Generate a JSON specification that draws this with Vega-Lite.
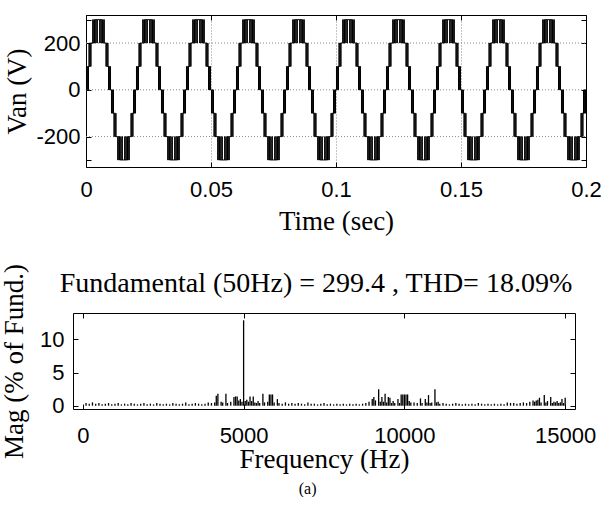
{
  "$schema": "https://vega.github.io/schema/vega-lite/v6.json",
  "padding": {"top": 14, "left": 0, "right": 0, "bottom": 0},
  "background": "white",
  "config": {
    "view": {"stroke": "black", "strokeWidth": 1},
    "axis": {
      "labelFont": "Liberation Sans", "labelFontSize": 22, "labelColor": "black",
      "titleFont": "Liberation Serif", "titleFontSize": 27, "titleFontWeight": "normal", "titleColor": "black",
      "domain": false, "domainColor": "black", "domainWidth": 1, "tickColor": "black", "tickSize": -5, "grid": false
    }
  },
  "title": {"text": "(a)", "orient": "bottom", "font": "Liberation Serif", "fontSize": 16, "fontWeight": "normal", "color": "black", "anchor": "middle", "offset": 8, "dx": 7},
  "spacing": 29,
  "vconcat": [
    {
      "width": 513,
      "height": 152,
      "view": {"stroke": null},
      "resolve": {"axis": {"x": "independent", "y": "independent"}},
      "layer": [
        {
          "data": {"values": [{"g": -200}, {"g": 0}, {"g": 200}]},
          "mark": {"type": "rule", "color": "#888", "strokeDash": [1, 2], "strokeWidth": 1},
          "encoding": {
            "x": {"datum": 0, "type": "quantitative", "scale": {"domain": [0, 0.2], "range": [13, 513], "nice": false, "zero": false},
                  "axis": {"orient": "top", "values": [0, 0.05, 0.1, 0.15, 0.2], "labels": false, "title": null, "domain": true, "grid": false}},
            "x2": {"datum": 0.2},
            "y": {"field": "g", "type": "quantitative", "scale": {"domain": [-330, 320], "nice": false, "zero": false},
                  "axis": {"orient": "right", "values": [-300, -200, 0, 200, 300], "labels": false, "title": null, "domain": true, "grid": false}}
          }
        },
        {
          "data": {"values": [
{"t":0,"v":0},
{"t":0.00019,"v":100},{"t":0.00031,"v":0},{"t":0.00057,"v":100},{"t":0.00093,"v":0},{"t":0.00100,"v":100},{"t":0.00121,"v":200},{"t":0.00129,"v":100},{"t":0.00161,"v":200},{"t":0.00189,"v":100},{"t":0.00201,"v":200},{"t":0.00268,"v":300},{"t":0.00282,"v":200},{"t":0.00311,"v":300},{"t":0.00339,"v":200},{"t":0.00356,"v":300},{"t":0.00394,"v":200},{"t":0.00402,"v":300},{"t":0.00448,"v":200},{"t":0.00450,"v":300},{"t":0.00550,"v":200},{"t":0.00552,"v":300},{"t":0.00598,"v":200},{"t":0.00606,"v":300},{"t":0.00644,"v":200},{"t":0.00661,"v":300},{"t":0.00689,"v":200},{"t":0.00718,"v":300},{"t":0.00732,"v":200},{"t":0.00799,"v":100},{"t":0.00811,"v":200},{"t":0.00839,"v":100},{"t":0.00871,"v":200},{"t":0.00879,"v":100},{"t":0.00900,"v":0},{"t":0.00907,"v":100},{"t":0.00943,"v":0},{"t":0.00969,"v":100},{"t":0.00981,"v":0},
{"t":0.01019,"v":-100},{"t":0.01031,"v":0},{"t":0.01057,"v":-100},{"t":0.01093,"v":0},{"t":0.01100,"v":-100},{"t":0.01121,"v":-200},{"t":0.01129,"v":-100},{"t":0.01161,"v":-200},{"t":0.01189,"v":-100},{"t":0.01201,"v":-200},{"t":0.01268,"v":-300},{"t":0.01282,"v":-200},{"t":0.01311,"v":-300},{"t":0.01339,"v":-200},{"t":0.01356,"v":-300},{"t":0.01394,"v":-200},{"t":0.01402,"v":-300},{"t":0.01448,"v":-200},{"t":0.01450,"v":-300},{"t":0.01550,"v":-200},{"t":0.01552,"v":-300},{"t":0.01598,"v":-200},{"t":0.01606,"v":-300},{"t":0.01644,"v":-200},{"t":0.01661,"v":-300},{"t":0.01689,"v":-200},{"t":0.01718,"v":-300},{"t":0.01732,"v":-200},{"t":0.01799,"v":-100},{"t":0.01811,"v":-200},{"t":0.01839,"v":-100},{"t":0.01871,"v":-200},{"t":0.01879,"v":-100},{"t":0.01900,"v":0},{"t":0.01907,"v":-100},{"t":0.01943,"v":0},{"t":0.01969,"v":-100},{"t":0.01981,"v":0},
{"t":0.02019,"v":100},{"t":0.02031,"v":0},{"t":0.02057,"v":100},{"t":0.02093,"v":0},{"t":0.02100,"v":100},{"t":0.02121,"v":200},{"t":0.02129,"v":100},{"t":0.02161,"v":200},{"t":0.02189,"v":100},{"t":0.02201,"v":200},{"t":0.02268,"v":300},{"t":0.02282,"v":200},{"t":0.02311,"v":300},{"t":0.02339,"v":200},{"t":0.02356,"v":300},{"t":0.02394,"v":200},{"t":0.02402,"v":300},{"t":0.02448,"v":200},{"t":0.02450,"v":300},{"t":0.02550,"v":200},{"t":0.02552,"v":300},{"t":0.02598,"v":200},{"t":0.02606,"v":300},{"t":0.02644,"v":200},{"t":0.02661,"v":300},{"t":0.02689,"v":200},{"t":0.02718,"v":300},{"t":0.02732,"v":200},{"t":0.02799,"v":100},{"t":0.02811,"v":200},{"t":0.02839,"v":100},{"t":0.02871,"v":200},{"t":0.02879,"v":100},{"t":0.02900,"v":0},{"t":0.02907,"v":100},{"t":0.02943,"v":0},{"t":0.02969,"v":100},{"t":0.02981,"v":0},
{"t":0.03019,"v":-100},{"t":0.03031,"v":0},{"t":0.03057,"v":-100},{"t":0.03093,"v":0},{"t":0.03100,"v":-100},{"t":0.03121,"v":-200},{"t":0.03129,"v":-100},{"t":0.03161,"v":-200},{"t":0.03189,"v":-100},{"t":0.03201,"v":-200},{"t":0.03268,"v":-300},{"t":0.03282,"v":-200},{"t":0.03311,"v":-300},{"t":0.03339,"v":-200},{"t":0.03356,"v":-300},{"t":0.03394,"v":-200},{"t":0.03402,"v":-300},{"t":0.03448,"v":-200},{"t":0.03450,"v":-300},{"t":0.03550,"v":-200},{"t":0.03552,"v":-300},{"t":0.03598,"v":-200},{"t":0.03606,"v":-300},{"t":0.03644,"v":-200},{"t":0.03661,"v":-300},{"t":0.03689,"v":-200},{"t":0.03718,"v":-300},{"t":0.03732,"v":-200},{"t":0.03799,"v":-100},{"t":0.03811,"v":-200},{"t":0.03839,"v":-100},{"t":0.03871,"v":-200},{"t":0.03879,"v":-100},{"t":0.03900,"v":0},{"t":0.03907,"v":-100},{"t":0.03943,"v":0},{"t":0.03969,"v":-100},{"t":0.03981,"v":0},
{"t":0.04019,"v":100},{"t":0.04031,"v":0},{"t":0.04057,"v":100},{"t":0.04093,"v":0},{"t":0.04100,"v":100},{"t":0.04121,"v":200},{"t":0.04129,"v":100},{"t":0.04161,"v":200},{"t":0.04189,"v":100},{"t":0.04201,"v":200},{"t":0.04268,"v":300},{"t":0.04282,"v":200},{"t":0.04311,"v":300},{"t":0.04339,"v":200},{"t":0.04356,"v":300},{"t":0.04394,"v":200},{"t":0.04402,"v":300},{"t":0.04448,"v":200},{"t":0.04450,"v":300},{"t":0.04550,"v":200},{"t":0.04552,"v":300},{"t":0.04598,"v":200},{"t":0.04606,"v":300},{"t":0.04644,"v":200},{"t":0.04661,"v":300},{"t":0.04689,"v":200},{"t":0.04718,"v":300},{"t":0.04732,"v":200},{"t":0.04799,"v":100},{"t":0.04811,"v":200},{"t":0.04839,"v":100},{"t":0.04871,"v":200},{"t":0.04879,"v":100},{"t":0.04900,"v":0},{"t":0.04907,"v":100},{"t":0.04943,"v":0},{"t":0.04969,"v":100},{"t":0.04981,"v":0},
{"t":0.05019,"v":-100},{"t":0.05031,"v":0},{"t":0.05057,"v":-100},{"t":0.05093,"v":0},{"t":0.05100,"v":-100},{"t":0.05121,"v":-200},{"t":0.05129,"v":-100},{"t":0.05161,"v":-200},{"t":0.05189,"v":-100},{"t":0.05201,"v":-200},{"t":0.05268,"v":-300},{"t":0.05282,"v":-200},{"t":0.05311,"v":-300},{"t":0.05339,"v":-200},{"t":0.05356,"v":-300},{"t":0.05394,"v":-200},{"t":0.05402,"v":-300},{"t":0.05448,"v":-200},{"t":0.05450,"v":-300},{"t":0.05550,"v":-200},{"t":0.05552,"v":-300},{"t":0.05598,"v":-200},{"t":0.05606,"v":-300},{"t":0.05644,"v":-200},{"t":0.05661,"v":-300},{"t":0.05689,"v":-200},{"t":0.05718,"v":-300},{"t":0.05732,"v":-200},{"t":0.05799,"v":-100},{"t":0.05811,"v":-200},{"t":0.05839,"v":-100},{"t":0.05871,"v":-200},{"t":0.05879,"v":-100},{"t":0.05900,"v":0},{"t":0.05907,"v":-100},{"t":0.05943,"v":0},{"t":0.05969,"v":-100},{"t":0.05981,"v":0},
{"t":0.06019,"v":100},{"t":0.06031,"v":0},{"t":0.06057,"v":100},{"t":0.06093,"v":0},{"t":0.06100,"v":100},{"t":0.06121,"v":200},{"t":0.06129,"v":100},{"t":0.06161,"v":200},{"t":0.06189,"v":100},{"t":0.06201,"v":200},{"t":0.06268,"v":300},{"t":0.06282,"v":200},{"t":0.06311,"v":300},{"t":0.06339,"v":200},{"t":0.06356,"v":300},{"t":0.06394,"v":200},{"t":0.06402,"v":300},{"t":0.06448,"v":200},{"t":0.06450,"v":300},{"t":0.06550,"v":200},{"t":0.06552,"v":300},{"t":0.06598,"v":200},{"t":0.06606,"v":300},{"t":0.06644,"v":200},{"t":0.06661,"v":300},{"t":0.06689,"v":200},{"t":0.06718,"v":300},{"t":0.06732,"v":200},{"t":0.06799,"v":100},{"t":0.06811,"v":200},{"t":0.06839,"v":100},{"t":0.06871,"v":200},{"t":0.06879,"v":100},{"t":0.06900,"v":0},{"t":0.06907,"v":100},{"t":0.06943,"v":0},{"t":0.06969,"v":100},{"t":0.06981,"v":0},
{"t":0.07019,"v":-100},{"t":0.07031,"v":0},{"t":0.07057,"v":-100},{"t":0.07093,"v":0},{"t":0.07100,"v":-100},{"t":0.07121,"v":-200},{"t":0.07129,"v":-100},{"t":0.07161,"v":-200},{"t":0.07189,"v":-100},{"t":0.07201,"v":-200},{"t":0.07268,"v":-300},{"t":0.07282,"v":-200},{"t":0.07311,"v":-300},{"t":0.07339,"v":-200},{"t":0.07356,"v":-300},{"t":0.07394,"v":-200},{"t":0.07402,"v":-300},{"t":0.07448,"v":-200},{"t":0.07450,"v":-300},{"t":0.07550,"v":-200},{"t":0.07552,"v":-300},{"t":0.07598,"v":-200},{"t":0.07606,"v":-300},{"t":0.07644,"v":-200},{"t":0.07661,"v":-300},{"t":0.07689,"v":-200},{"t":0.07718,"v":-300},{"t":0.07732,"v":-200},{"t":0.07799,"v":-100},{"t":0.07811,"v":-200},{"t":0.07839,"v":-100},{"t":0.07871,"v":-200},{"t":0.07879,"v":-100},{"t":0.07900,"v":0},{"t":0.07907,"v":-100},{"t":0.07943,"v":0},{"t":0.07969,"v":-100},{"t":0.07981,"v":0},
{"t":0.08019,"v":100},{"t":0.08031,"v":0},{"t":0.08057,"v":100},{"t":0.08093,"v":0},{"t":0.08100,"v":100},{"t":0.08121,"v":200},{"t":0.08129,"v":100},{"t":0.08161,"v":200},{"t":0.08189,"v":100},{"t":0.08201,"v":200},{"t":0.08268,"v":300},{"t":0.08282,"v":200},{"t":0.08311,"v":300},{"t":0.08339,"v":200},{"t":0.08356,"v":300},{"t":0.08394,"v":200},{"t":0.08402,"v":300},{"t":0.08448,"v":200},{"t":0.08450,"v":300},{"t":0.08550,"v":200},{"t":0.08552,"v":300},{"t":0.08598,"v":200},{"t":0.08606,"v":300},{"t":0.08644,"v":200},{"t":0.08661,"v":300},{"t":0.08689,"v":200},{"t":0.08718,"v":300},{"t":0.08732,"v":200},{"t":0.08799,"v":100},{"t":0.08811,"v":200},{"t":0.08839,"v":100},{"t":0.08871,"v":200},{"t":0.08879,"v":100},{"t":0.08900,"v":0},{"t":0.08907,"v":100},{"t":0.08943,"v":0},{"t":0.08969,"v":100},{"t":0.08981,"v":0},
{"t":0.09019,"v":-100},{"t":0.09031,"v":0},{"t":0.09057,"v":-100},{"t":0.09093,"v":0},{"t":0.09100,"v":-100},{"t":0.09121,"v":-200},{"t":0.09129,"v":-100},{"t":0.09161,"v":-200},{"t":0.09189,"v":-100},{"t":0.09201,"v":-200},{"t":0.09268,"v":-300},{"t":0.09282,"v":-200},{"t":0.09311,"v":-300},{"t":0.09339,"v":-200},{"t":0.09356,"v":-300},{"t":0.09394,"v":-200},{"t":0.09402,"v":-300},{"t":0.09448,"v":-200},{"t":0.09450,"v":-300},{"t":0.09550,"v":-200},{"t":0.09552,"v":-300},{"t":0.09598,"v":-200},{"t":0.09606,"v":-300},{"t":0.09644,"v":-200},{"t":0.09661,"v":-300},{"t":0.09689,"v":-200},{"t":0.09718,"v":-300},{"t":0.09732,"v":-200},{"t":0.09799,"v":-100},{"t":0.09811,"v":-200},{"t":0.09839,"v":-100},{"t":0.09871,"v":-200},{"t":0.09879,"v":-100},{"t":0.09900,"v":0},{"t":0.09907,"v":-100},{"t":0.09943,"v":0},{"t":0.09969,"v":-100},{"t":0.09981,"v":0},
{"t":0.10019,"v":100},{"t":0.10031,"v":0},{"t":0.10057,"v":100},{"t":0.10093,"v":0},{"t":0.10100,"v":100},{"t":0.10121,"v":200},{"t":0.10129,"v":100},{"t":0.10161,"v":200},{"t":0.10189,"v":100},{"t":0.10201,"v":200},{"t":0.10268,"v":300},{"t":0.10282,"v":200},{"t":0.10311,"v":300},{"t":0.10339,"v":200},{"t":0.10356,"v":300},{"t":0.10394,"v":200},{"t":0.10402,"v":300},{"t":0.10448,"v":200},{"t":0.10450,"v":300},{"t":0.10550,"v":200},{"t":0.10552,"v":300},{"t":0.10598,"v":200},{"t":0.10606,"v":300},{"t":0.10644,"v":200},{"t":0.10661,"v":300},{"t":0.10689,"v":200},{"t":0.10718,"v":300},{"t":0.10732,"v":200},{"t":0.10799,"v":100},{"t":0.10811,"v":200},{"t":0.10839,"v":100},{"t":0.10871,"v":200},{"t":0.10879,"v":100},{"t":0.10900,"v":0},{"t":0.10907,"v":100},{"t":0.10943,"v":0},{"t":0.10969,"v":100},{"t":0.10981,"v":0},
{"t":0.11019,"v":-100},{"t":0.11031,"v":0},{"t":0.11057,"v":-100},{"t":0.11093,"v":0},{"t":0.11100,"v":-100},{"t":0.11121,"v":-200},{"t":0.11129,"v":-100},{"t":0.11161,"v":-200},{"t":0.11189,"v":-100},{"t":0.11201,"v":-200},{"t":0.11268,"v":-300},{"t":0.11282,"v":-200},{"t":0.11311,"v":-300},{"t":0.11339,"v":-200},{"t":0.11356,"v":-300},{"t":0.11394,"v":-200},{"t":0.11402,"v":-300},{"t":0.11448,"v":-200},{"t":0.11450,"v":-300},{"t":0.11550,"v":-200},{"t":0.11552,"v":-300},{"t":0.11598,"v":-200},{"t":0.11606,"v":-300},{"t":0.11644,"v":-200},{"t":0.11661,"v":-300},{"t":0.11689,"v":-200},{"t":0.11718,"v":-300},{"t":0.11732,"v":-200},{"t":0.11799,"v":-100},{"t":0.11811,"v":-200},{"t":0.11839,"v":-100},{"t":0.11871,"v":-200},{"t":0.11879,"v":-100},{"t":0.11900,"v":0},{"t":0.11907,"v":-100},{"t":0.11943,"v":0},{"t":0.11969,"v":-100},{"t":0.11981,"v":0},
{"t":0.12019,"v":100},{"t":0.12031,"v":0},{"t":0.12057,"v":100},{"t":0.12093,"v":0},{"t":0.12100,"v":100},{"t":0.12121,"v":200},{"t":0.12129,"v":100},{"t":0.12161,"v":200},{"t":0.12189,"v":100},{"t":0.12201,"v":200},{"t":0.12268,"v":300},{"t":0.12282,"v":200},{"t":0.12311,"v":300},{"t":0.12339,"v":200},{"t":0.12356,"v":300},{"t":0.12394,"v":200},{"t":0.12402,"v":300},{"t":0.12448,"v":200},{"t":0.12450,"v":300},{"t":0.12550,"v":200},{"t":0.12552,"v":300},{"t":0.12598,"v":200},{"t":0.12606,"v":300},{"t":0.12644,"v":200},{"t":0.12661,"v":300},{"t":0.12689,"v":200},{"t":0.12718,"v":300},{"t":0.12732,"v":200},{"t":0.12799,"v":100},{"t":0.12811,"v":200},{"t":0.12839,"v":100},{"t":0.12871,"v":200},{"t":0.12879,"v":100},{"t":0.12900,"v":0},{"t":0.12907,"v":100},{"t":0.12943,"v":0},{"t":0.12969,"v":100},{"t":0.12981,"v":0},
{"t":0.13019,"v":-100},{"t":0.13031,"v":0},{"t":0.13057,"v":-100},{"t":0.13093,"v":0},{"t":0.13100,"v":-100},{"t":0.13121,"v":-200},{"t":0.13129,"v":-100},{"t":0.13161,"v":-200},{"t":0.13189,"v":-100},{"t":0.13201,"v":-200},{"t":0.13268,"v":-300},{"t":0.13282,"v":-200},{"t":0.13311,"v":-300},{"t":0.13339,"v":-200},{"t":0.13356,"v":-300},{"t":0.13394,"v":-200},{"t":0.13402,"v":-300},{"t":0.13448,"v":-200},{"t":0.13450,"v":-300},{"t":0.13550,"v":-200},{"t":0.13552,"v":-300},{"t":0.13598,"v":-200},{"t":0.13606,"v":-300},{"t":0.13644,"v":-200},{"t":0.13661,"v":-300},{"t":0.13689,"v":-200},{"t":0.13718,"v":-300},{"t":0.13732,"v":-200},{"t":0.13799,"v":-100},{"t":0.13811,"v":-200},{"t":0.13839,"v":-100},{"t":0.13871,"v":-200},{"t":0.13879,"v":-100},{"t":0.13900,"v":0},{"t":0.13907,"v":-100},{"t":0.13943,"v":0},{"t":0.13969,"v":-100},{"t":0.13981,"v":0},
{"t":0.14019,"v":100},{"t":0.14031,"v":0},{"t":0.14057,"v":100},{"t":0.14093,"v":0},{"t":0.14100,"v":100},{"t":0.14121,"v":200},{"t":0.14129,"v":100},{"t":0.14161,"v":200},{"t":0.14189,"v":100},{"t":0.14201,"v":200},{"t":0.14268,"v":300},{"t":0.14282,"v":200},{"t":0.14311,"v":300},{"t":0.14339,"v":200},{"t":0.14356,"v":300},{"t":0.14394,"v":200},{"t":0.14402,"v":300},{"t":0.14448,"v":200},{"t":0.14450,"v":300},{"t":0.14550,"v":200},{"t":0.14552,"v":300},{"t":0.14598,"v":200},{"t":0.14606,"v":300},{"t":0.14644,"v":200},{"t":0.14661,"v":300},{"t":0.14689,"v":200},{"t":0.14718,"v":300},{"t":0.14732,"v":200},{"t":0.14799,"v":100},{"t":0.14811,"v":200},{"t":0.14839,"v":100},{"t":0.14871,"v":200},{"t":0.14879,"v":100},{"t":0.14900,"v":0},{"t":0.14907,"v":100},{"t":0.14943,"v":0},{"t":0.14969,"v":100},{"t":0.14981,"v":0},
{"t":0.15019,"v":-100},{"t":0.15031,"v":0},{"t":0.15057,"v":-100},{"t":0.15093,"v":0},{"t":0.15100,"v":-100},{"t":0.15121,"v":-200},{"t":0.15129,"v":-100},{"t":0.15161,"v":-200},{"t":0.15189,"v":-100},{"t":0.15201,"v":-200},{"t":0.15268,"v":-300},{"t":0.15282,"v":-200},{"t":0.15311,"v":-300},{"t":0.15339,"v":-200},{"t":0.15356,"v":-300},{"t":0.15394,"v":-200},{"t":0.15402,"v":-300},{"t":0.15448,"v":-200},{"t":0.15450,"v":-300},{"t":0.15550,"v":-200},{"t":0.15552,"v":-300},{"t":0.15598,"v":-200},{"t":0.15606,"v":-300},{"t":0.15644,"v":-200},{"t":0.15661,"v":-300},{"t":0.15689,"v":-200},{"t":0.15718,"v":-300},{"t":0.15732,"v":-200},{"t":0.15799,"v":-100},{"t":0.15811,"v":-200},{"t":0.15839,"v":-100},{"t":0.15871,"v":-200},{"t":0.15879,"v":-100},{"t":0.15900,"v":0},{"t":0.15907,"v":-100},{"t":0.15943,"v":0},{"t":0.15969,"v":-100},{"t":0.15981,"v":0},
{"t":0.16019,"v":100},{"t":0.16031,"v":0},{"t":0.16057,"v":100},{"t":0.16093,"v":0},{"t":0.16100,"v":100},{"t":0.16121,"v":200},{"t":0.16129,"v":100},{"t":0.16161,"v":200},{"t":0.16189,"v":100},{"t":0.16201,"v":200},{"t":0.16268,"v":300},{"t":0.16282,"v":200},{"t":0.16311,"v":300},{"t":0.16339,"v":200},{"t":0.16356,"v":300},{"t":0.16394,"v":200},{"t":0.16402,"v":300},{"t":0.16448,"v":200},{"t":0.16450,"v":300},{"t":0.16550,"v":200},{"t":0.16552,"v":300},{"t":0.16598,"v":200},{"t":0.16606,"v":300},{"t":0.16644,"v":200},{"t":0.16661,"v":300},{"t":0.16689,"v":200},{"t":0.16718,"v":300},{"t":0.16732,"v":200},{"t":0.16799,"v":100},{"t":0.16811,"v":200},{"t":0.16839,"v":100},{"t":0.16871,"v":200},{"t":0.16879,"v":100},{"t":0.16900,"v":0},{"t":0.16907,"v":100},{"t":0.16943,"v":0},{"t":0.16969,"v":100},{"t":0.16981,"v":0},
{"t":0.17019,"v":-100},{"t":0.17031,"v":0},{"t":0.17057,"v":-100},{"t":0.17093,"v":0},{"t":0.17100,"v":-100},{"t":0.17121,"v":-200},{"t":0.17129,"v":-100},{"t":0.17161,"v":-200},{"t":0.17189,"v":-100},{"t":0.17201,"v":-200},{"t":0.17268,"v":-300},{"t":0.17282,"v":-200},{"t":0.17311,"v":-300},{"t":0.17339,"v":-200},{"t":0.17356,"v":-300},{"t":0.17394,"v":-200},{"t":0.17402,"v":-300},{"t":0.17448,"v":-200},{"t":0.17450,"v":-300},{"t":0.17550,"v":-200},{"t":0.17552,"v":-300},{"t":0.17598,"v":-200},{"t":0.17606,"v":-300},{"t":0.17644,"v":-200},{"t":0.17661,"v":-300},{"t":0.17689,"v":-200},{"t":0.17718,"v":-300},{"t":0.17732,"v":-200},{"t":0.17799,"v":-100},{"t":0.17811,"v":-200},{"t":0.17839,"v":-100},{"t":0.17871,"v":-200},{"t":0.17879,"v":-100},{"t":0.17900,"v":0},{"t":0.17907,"v":-100},{"t":0.17943,"v":0},{"t":0.17969,"v":-100},{"t":0.17981,"v":0},
{"t":0.18019,"v":100},{"t":0.18031,"v":0},{"t":0.18057,"v":100},{"t":0.18093,"v":0},{"t":0.18100,"v":100},{"t":0.18121,"v":200},{"t":0.18129,"v":100},{"t":0.18161,"v":200},{"t":0.18189,"v":100},{"t":0.18201,"v":200},{"t":0.18268,"v":300},{"t":0.18282,"v":200},{"t":0.18311,"v":300},{"t":0.18339,"v":200},{"t":0.18356,"v":300},{"t":0.18394,"v":200},{"t":0.18402,"v":300},{"t":0.18448,"v":200},{"t":0.18450,"v":300},{"t":0.18550,"v":200},{"t":0.18552,"v":300},{"t":0.18598,"v":200},{"t":0.18606,"v":300},{"t":0.18644,"v":200},{"t":0.18661,"v":300},{"t":0.18689,"v":200},{"t":0.18718,"v":300},{"t":0.18732,"v":200},{"t":0.18799,"v":100},{"t":0.18811,"v":200},{"t":0.18839,"v":100},{"t":0.18871,"v":200},{"t":0.18879,"v":100},{"t":0.18900,"v":0},{"t":0.18907,"v":100},{"t":0.18943,"v":0},{"t":0.18969,"v":100},{"t":0.18981,"v":0},
{"t":0.19019,"v":-100},{"t":0.19031,"v":0},{"t":0.19057,"v":-100},{"t":0.19093,"v":0},{"t":0.19100,"v":-100},{"t":0.19121,"v":-200},{"t":0.19129,"v":-100},{"t":0.19161,"v":-200},{"t":0.19189,"v":-100},{"t":0.19201,"v":-200},{"t":0.19268,"v":-300},{"t":0.19282,"v":-200},{"t":0.19311,"v":-300},{"t":0.19339,"v":-200},{"t":0.19356,"v":-300},{"t":0.19394,"v":-200},{"t":0.19402,"v":-300},{"t":0.19448,"v":-200},{"t":0.19450,"v":-300},{"t":0.19550,"v":-200},{"t":0.19552,"v":-300},{"t":0.19598,"v":-200},{"t":0.19606,"v":-300},{"t":0.19644,"v":-200},{"t":0.19661,"v":-300},{"t":0.19689,"v":-200},{"t":0.19718,"v":-300},{"t":0.19732,"v":-200},{"t":0.19799,"v":-100},{"t":0.19811,"v":-200},{"t":0.19839,"v":-100},{"t":0.19871,"v":-200},{"t":0.19879,"v":-100},{"t":0.19900,"v":0},{"t":0.19907,"v":-100},{"t":0.19943,"v":0},{"t":0.19969,"v":-100},{"t":0.19981,"v":0},
{"t":0.2,"v":0}
          ]},
          "mark": {"type": "line", "interpolate": "step-after", "color": "black", "strokeWidth": 1, "clip": true},
          "encoding": {
            "x": {"field": "t", "type": "quantitative", "scale": {"domain": [0, 0.2], "range": [13, 513], "nice": false, "zero": false},
                  "axis": {"orient": "bottom", "values": [0, 0.05, 0.1, 0.15, 0.2], "labelExpr": "'' + datum.value", "title": "Time (sec)", "domain": true, "grid": true, "gridDash": [1, 2], "gridColor": "#888", "labelPadding": 17, "titlePadding": 8, "labelFlush": false}},
            "y": {"field": "v", "type": "quantitative", "scale": {"domain": [-330, 320], "nice": false, "zero": false},
                  "axis": {"orient": "left", "offset": -13, "values": [-300, -200, 0, 200, 300], "labelExpr": "abs(datum.value) == 300 ? '' : '' + datum.value", "title": "Van (V)", "domain": true, "grid": false, "labelPadding": 11, "titlePadding": 4}}
          }
        }
      ]
    },
    {
      "width": 502,
      "height": 96,
      "title": {"text": "Fundamental (50Hz) = 299.4 , THD= 18.09%", "font": "Liberation Serif", "fontSize": 28, "fontWeight": "normal", "color": "black", "anchor": "middle", "frame": "group", "offset": -34, "dx": -8},
      "resolve": {"axis": {"x": "independent", "y": "independent"}},
      "layer": [
        {
          "data": {"values": [
{"f":100,"m":0.4},{"f":200,"m":0.3},{"f":300,"m":0.5},{"f":400,"m":0.3},{"f":500,"m":0.4},{"f":600,"m":0.2},{"f":700,"m":0.3},{"f":800,"m":0.4},{"f":900,"m":0.2},{"f":1000,"m":0.3},
{"f":1100,"m":0.4},{"f":1200,"m":0.2},{"f":1300,"m":0.3},{"f":1400,"m":0.2},{"f":1500,"m":0.4},{"f":1600,"m":0.3},{"f":1700,"m":0.2},{"f":1800,"m":0.3},{"f":1900,"m":0.4},{"f":2000,"m":0.2},
{"f":2100,"m":0.3},{"f":2200,"m":0.2},{"f":2300,"m":0.4},{"f":2400,"m":0.3},{"f":2500,"m":0.2},{"f":2600,"m":0.3},{"f":2700,"m":0.2},{"f":2800,"m":0.4},{"f":2900,"m":0.3},{"f":3000,"m":0.2},
{"f":3100,"m":0.3},{"f":3200,"m":0.5},{"f":3300,"m":0.2},{"f":3400,"m":0.3},{"f":3500,"m":0.4},{"f":3600,"m":0.3},{"f":3700,"m":0.2},{"f":3800,"m":0.3},{"f":3900,"m":0.5},{"f":4000,"m":0.4},
{"f":4100,"m":0.5},{"f":4150,"m":1.5},{"f":4200,"m":1.8},{"f":4300,"m":0.6},{"f":4350,"m":0.5},{"f":4450,"m":1.8},{"f":4500,"m":0.4},{"f":4600,"m":0.6},{"f":4700,"m":1.3},{"f":4750,"m":1.4},
{"f":4800,"m":1.4},{"f":4850,"m":0.8},{"f":4900,"m":1.0},{"f":4950,"m":0.6},{"f":5000,"m":12.9},{"f":5050,"m":0.7},{"f":5100,"m":0.9},{"f":5150,"m":0.6},{"f":5200,"m":1.4},{"f":5250,"m":0.7},
{"f":5300,"m":1.4},{"f":5350,"m":0.5},{"f":5400,"m":0.4},{"f":5450,"m":0.7},{"f":5500,"m":0.4},{"f":5600,"m":1.8},{"f":5650,"m":0.5},{"f":5750,"m":0.6},{"f":5800,"m":1.7},{"f":5850,"m":1.7},
{"f":5900,"m":1.7},{"f":5950,"m":0.5},{"f":6050,"m":1.0},{"f":6100,"m":0.4},{"f":6200,"m":0.3},{"f":6300,"m":0.5},{"f":6400,"m":0.3},{"f":6500,"m":0.4},{"f":6600,"m":0.3},{"f":6700,"m":0.4},
{"f":6800,"m":0.3},{"f":6900,"m":0.2},{"f":7000,"m":0.5},{"f":7100,"m":0.3},{"f":7200,"m":0.3},{"f":7300,"m":0.2},{"f":7400,"m":0.3},{"f":7500,"m":0.4},{"f":7600,"m":0.2},{"f":7700,"m":0.3},
{"f":7800,"m":0.2},{"f":7900,"m":0.3},{"f":8000,"m":0.2},{"f":8100,"m":0.3},{"f":8200,"m":0.2},{"f":8300,"m":0.3},{"f":8400,"m":0.2},{"f":8500,"m":0.3},{"f":8600,"m":0.2},{"f":8700,"m":0.3},
{"f":8800,"m":0.4},{"f":8900,"m":0.6},{"f":9000,"m":1.0},{"f":9050,"m":1.3},{"f":9100,"m":0.8},{"f":9200,"m":2.5},{"f":9250,"m":0.6},{"f":9300,"m":1.3},{"f":9350,"m":0.6},{"f":9400,"m":1.8},
{"f":9450,"m":0.5},{"f":9500,"m":1.3},{"f":9550,"m":1.2},{"f":9600,"m":0.4},{"f":9650,"m":0.7},{"f":9700,"m":0.4},{"f":9800,"m":1.0},{"f":9850,"m":0.4},{"f":9900,"m":1.7},{"f":9950,"m":1.7},
{"f":10000,"m":1.7},{"f":10050,"m":1.7},{"f":10100,"m":1.7},{"f":10150,"m":0.7},{"f":10200,"m":0.5},{"f":10300,"m":0.5},{"f":10400,"m":0.4},{"f":10500,"m":1.1},{"f":10550,"m":0.4},{"f":10650,"m":1.0},
{"f":10700,"m":0.5},{"f":10750,"m":1.6},{"f":10800,"m":0.4},{"f":10850,"m":0.5},{"f":10950,"m":2.5},{"f":11000,"m":0.5},{"f":11050,"m":0.6},{"f":11100,"m":0.3},{"f":11200,"m":0.4},{"f":11300,"m":0.3},
{"f":11400,"m":0.2},{"f":11500,"m":0.3},{"f":11600,"m":0.4},{"f":11700,"m":0.3},{"f":11800,"m":0.2},{"f":11900,"m":0.3},{"f":12000,"m":0.2},{"f":12100,"m":0.3},{"f":12200,"m":0.2},{"f":12300,"m":0.4},
{"f":12400,"m":0.3},{"f":12500,"m":0.2},{"f":12600,"m":0.3},{"f":12700,"m":0.2},{"f":12800,"m":0.3},{"f":12900,"m":0.2},{"f":13000,"m":0.3},{"f":13100,"m":0.2},{"f":13200,"m":0.5},{"f":13300,"m":0.4},
{"f":13400,"m":0.4},{"f":13500,"m":0.3},{"f":13600,"m":0.4},{"f":13700,"m":0.5},{"f":13800,"m":0.4},{"f":13900,"m":0.6},{"f":14000,"m":0.8},{"f":14050,"m":0.6},{"f":14100,"m":0.8},{"f":14150,"m":0.9},
{"f":14200,"m":1.2},{"f":14250,"m":0.5},{"f":14350,"m":1.6},{"f":14400,"m":0.5},{"f":14450,"m":0.7},{"f":14550,"m":1.3},{"f":14600,"m":0.4},{"f":14650,"m":0.6},{"f":14700,"m":0.5},{"f":14750,"m":0.7},
{"f":14800,"m":0.4},{"f":14850,"m":0.5},{"f":14900,"m":1.0},{"f":14950,"m":0.4},{"f":15000,"m":1.2}
          ]},
          "mark": {"type": "bar", "color": "black", "size": 1.3, "clip": true},
          "encoding": {
            "x": {"field": "f", "type": "quantitative", "scale": {"domain": [-150, 15150], "nice": false, "zero": false},
                  "axis": {"orient": "bottom", "values": [0, 5000, 10000, 15000], "labelExpr": "'' + datum.value", "title": "Frequency (Hz)", "labelPadding": 21, "titlePadding": 0, "labelFlush": false}},
            "y": {"field": "m", "type": "quantitative", "scale": {"domain": [-0.5, 14], "nice": false, "zero": false},
                  "axis": {"orient": "left", "values": [0, 5, 10], "labelExpr": "'' + datum.value", "title": "Mag (% of Fund.)", "labelPadding": 14, "titlePadding": 11}}
          }
        },
        {
          "data": {"values": [{"f": 0, "m": 0}]},
          "mark": {"type": "point", "opacity": 0},
          "encoding": {
            "x": {"field": "f", "type": "quantitative", "axis": {"orient": "top", "values": [0, 5000, 10000, 15000], "labels": false, "title": null}},
            "y": {"field": "m", "type": "quantitative", "axis": {"orient": "right", "values": [0, 5, 10], "labels": false, "title": null}}
          }
        }
      ]
    }
  ]
}
